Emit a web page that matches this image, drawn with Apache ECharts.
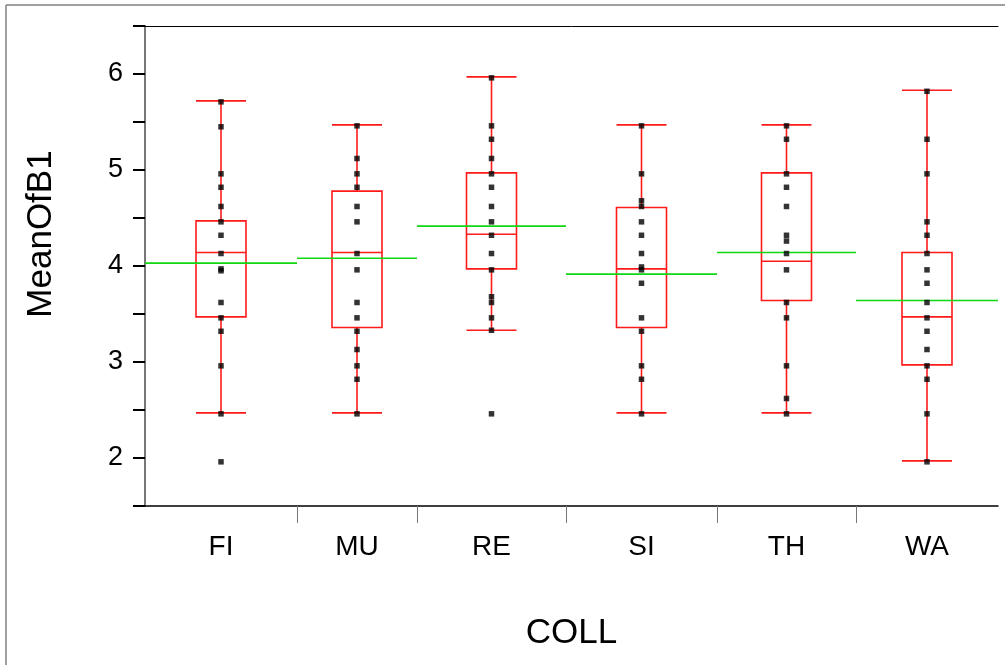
<!DOCTYPE html>
<html>
<head>
<meta charset="utf-8">
<script src="https://cdn.jsdelivr.net/npm/echarts@6/dist/echarts.min.js"></script>
<style>
html,body{margin:0;padding:0;background:#fff;}
#chart{width:1005px;height:665px;}
</style>
</head>
<body>
<div id="chart"></div>
<script>
// ---- data ----
const categories = ['FI', 'MU', 'RE', 'SI', 'TH', 'WA'];
// relative widths of the group bands along the x axis
const groupWidths = [152, 120, 149, 151, 139, 142];

const pointsFI = [5.71, 5.45, 4.96, 4.82, 4.62, 4.46, 4.32, 4.13, 3.97, 3.95, 3.62, 3.46, 3.32, 2.96, 2.46, 1.96];
const pointsMU = [5.46, 5.12, 4.96, 4.82, 4.62, 4.46, 4.13, 3.96, 3.62, 3.46, 3.32, 3.13, 2.96, 2.82, 2.46];
const pointsRE = [5.96, 5.46, 5.32, 5.12, 4.96, 4.82, 4.62, 4.46, 4.32, 4.13, 3.96, 3.68, 3.62, 3.46, 3.33, 2.46];
const pointsSI = [5.46, 4.96, 4.68, 4.62, 4.46, 4.32, 4.13, 3.99, 3.96, 3.82, 3.46, 3.32, 2.96, 2.82, 2.46];
const pointsTH = [5.46, 5.32, 4.96, 4.82, 4.62, 4.32, 4.26, 4.13, 3.96, 3.62, 3.46, 2.96, 2.62, 2.46];
const pointsWA = [5.82, 5.32, 4.96, 4.46, 4.32, 4.13, 3.96, 3.82, 3.62, 3.46, 3.32, 3.13, 2.96, 2.82, 2.46, 1.96];

// box statistics: [lower whisker, Q1, median, Q3, upper whisker]
const boxFI = [2.47, 3.47, 4.14, 4.47, 5.72];
const boxMU = [2.47, 3.36, 4.14, 4.78, 5.47];
const boxRE = [3.33, 3.97, 4.33, 4.97, 5.97];
const boxSI = [2.47, 3.36, 3.97, 4.61, 5.47];
const boxTH = [2.47, 3.64, 4.05, 4.97, 5.47];
const boxWA = [1.97, 2.97, 3.47, 4.14, 5.83];

const groupMeans = [4.03, 4.08, 4.415, 3.915, 4.14, 3.64];

const yTickValues = [2, 3, 4, 5, 6];

// ---- derived ----
const allPoints = [pointsFI, pointsMU, pointsRE, pointsSI, pointsTH, pointsWA];
const allBoxes = [boxFI, boxMU, boxRE, boxSI, boxTH, boxWA];
const starts = [], ends = [], centers = [];
let acc = 0;
groupWidths.forEach(w => { starts.push(acc); centers.push(acc + w / 2); acc += w; ends.push(acc); });
const total = acc;
const boundaries = ends.slice(0, -1);

const scatterData = [];
allPoints.forEach((arr, i) => arr.forEach(v => scatterData.push([centers[i], v])));

const boxData = allBoxes.map((b, i) => [centers[i], b[0], b[1], b[2], b[3], b[4], groupMeans[i], starts[i], ends[i]]);

const FONT = '"Liberation Sans", Arial, Helvetica, sans-serif';
const RED = '#ff1a1a';
const GREEN = '#10d810';

const chart = echarts.init(document.getElementById('chart'), null, { renderer: 'canvas' });

chart.setOption({
  animation: false,
  backgroundColor: '#ffffff',
  grid: { left: 145, right: 7, top: 26, bottom: 159, containLabel: false },
  xAxis: [{
    type: 'value',
    min: 0,
    max: total,
    position: 'bottom',
    name: 'COLL',
    nameLocation: 'middle',
    nameGap: 110,
    nameTextStyle: { fontFamily: FONT, fontSize: 35, color: '#000' },
    axisLine: { show: true, lineStyle: { color: '#000', width: 1.5 } },
    axisTick: { show: true, customValues: boundaries, length: 17, lineStyle: { color: '#777', width: 1 } },
    axisLabel: {
      show: true,
      customValues: centers,
      margin: 27,
      fontFamily: FONT, fontSize: 28, color: '#000',
      formatter: function (v) {
        let best = 0, bd = Infinity;
        centers.forEach((c, i) => { const d = Math.abs(c - v); if (d < bd) { bd = d; best = i; } });
        return categories[best];
      }
    },
    splitLine: { show: false }
  }, {
    type: 'value', min: 0, max: total, position: 'top',
    axisLine: { show: true, lineStyle: { color: '#000', width: 1 } },
    axisTick: { show: false }, axisLabel: { show: false }, splitLine: { show: false }
  }],
  yAxis: [{
    type: 'value',
    min: 1.5,
    max: 6.5,
    interval: 0.5,
    name: 'MeanOfB1',
    nameLocation: 'middle',
    nameGap: 86,
    nameRotate: 90,
    nameTextStyle: { fontFamily: FONT, fontSize: 35, color: '#000', padding: [0, 0, 0, 64] },
    axisLine: { show: true, lineStyle: { color: '#555', width: 1.5 } },
    axisTick: { show: true, length: 12, lineStyle: { color: '#000', width: 2 } },
    axisLabel: {
      margin: 22,
      fontFamily: FONT, fontSize: 27, color: '#000',
      formatter: function (v) { return yTickValues.indexOf(Math.round(v * 10) / 10) >= 0 ? String(Math.round(v)) : ''; }
    },
    splitLine: { show: false }
  }, {
    type: 'value', min: 1.5, max: 6.5, position: 'right',
    axisLine: { show: true, lineStyle: { color: '#777', width: 2 } },
    axisTick: { show: false }, axisLabel: { show: false }, splitLine: { show: false }
  }],
  graphic: [
    { type: 'line', shape: { x1: 6, y1: 5, x2: 1005, y2: 5 }, style: { stroke: '#808080', lineWidth: 1.5 }, silent: true },
    { type: 'line', shape: { x1: 6, y1: 5, x2: 6, y2: 665 }, style: { stroke: '#808080', lineWidth: 1.5 }, silent: true }
  ],
  series: [{
    type: 'custom',
    xAxisIndex: 0,
    yAxisIndex: 0,
    data: boxData,
    encode: { x: 0, y: [1, 2, 3, 4, 5, 6] },
    z: 2,
    renderItem: function (params, api) {
      const cx = api.value(0);
      const pLow = api.coord([cx, api.value(1)]);
      const pQ1 = api.coord([cx, api.value(2)]);
      const pMed = api.coord([cx, api.value(3)]);
      const pQ3 = api.coord([cx, api.value(4)]);
      const pHigh = api.coord([cx, api.value(5)]);
      const pMean = api.coord([cx, api.value(6)]);
      const pS = api.coord([api.value(7), api.value(6)]);
      const pE = api.coord([api.value(8), api.value(6)]);
      const hw = 25;
      const x = pMed[0];
      const xl = pMed[0] - hw, xr = pMed[0] + hw;
      const redLine = { stroke: RED, lineWidth: 1.6, fill: null };
      const line = (x1, y1, x2, y2, st) => ({ type: 'line', shape: { x1, y1, x2, y2 }, style: st });
      return {
        type: 'group',
        children: [
          { type: 'rect', shape: { x: xl, y: pQ3[1], width: xr - xl, height: pQ1[1] - pQ3[1] }, style: { fill: null, stroke: RED, lineWidth: 1.6 } },
          line(xl, pMed[1], xr, pMed[1], redLine),
          line(x, pHigh[1], x, pQ3[1], redLine),
          line(x, pQ1[1], x, pLow[1], redLine),
          line(xl, pHigh[1], xr, pHigh[1], redLine),
          line(xl, pLow[1], xr, pLow[1], redLine),
          line(pS[0], pMean[1], pE[0], pMean[1], { stroke: GREEN, lineWidth: 1.6, fill: null })
        ]
      };
    }
  }, {
    type: 'scatter',
    xAxisIndex: 0,
    yAxisIndex: 0,
    data: scatterData,
    symbol: 'rect',
    symbolSize: 5.5,
    itemStyle: { color: '#000' },
    z: 3
  }]
});
</script>
</body>
</html>
